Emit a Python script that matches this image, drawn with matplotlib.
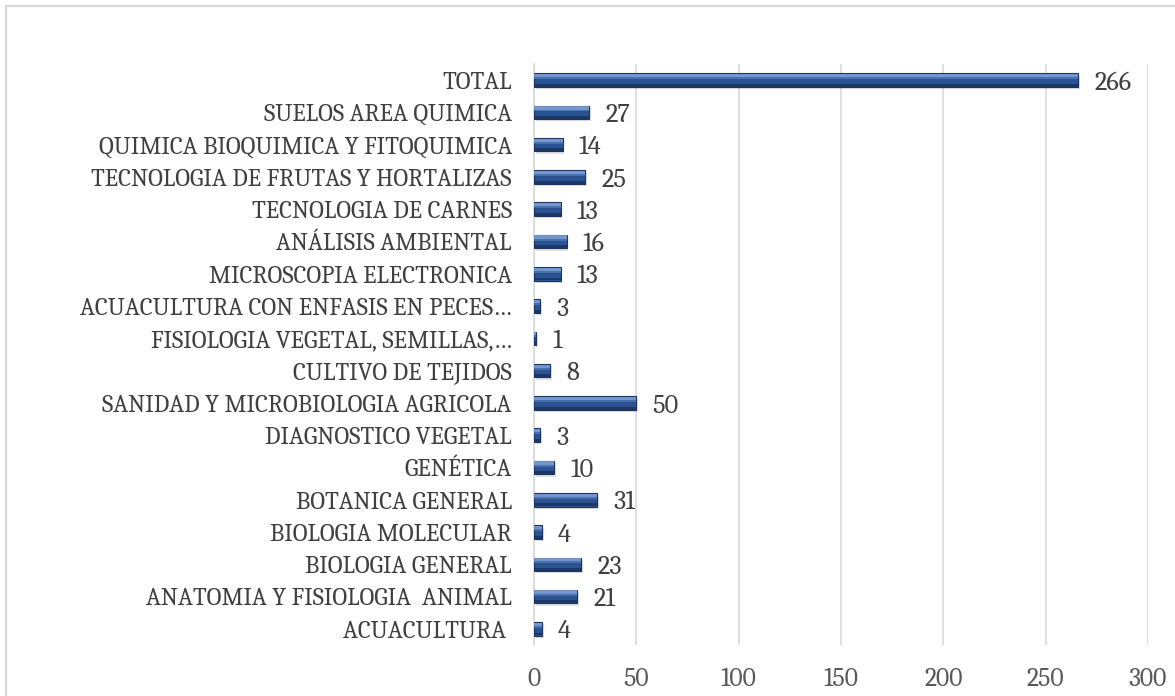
import matplotlib
matplotlib.use("Agg")
import matplotlib.pyplot as plt
from matplotlib.patches import Rectangle

categories = [
    "TOTAL",
    "SUELOS AREA QUIMICA",
    "QUIMICA BIOQUIMICA Y FITOQUIMICA",
    "TECNOLOGIA DE FRUTAS Y HORTALIZAS",
    "TECNOLOGIA DE CARNES",
    "ANÁLISIS AMBIENTAL",
    "MICROSCOPIA ELECTRONICA",
    "ACUACULTURA CON ENFASIS EN PECES…",
    "FISIOLOGIA VEGETAL, SEMILLAS,…",
    "CULTIVO DE TEJIDOS",
    "SANIDAD Y MICROBIOLOGIA AGRICOLA",
    "DIAGNOSTICO VEGETAL",
    "GENÉTICA",
    "BOTANICA GENERAL",
    "BIOLOGIA MOLECULAR",
    "BIOLOGIA GENERAL",
    "ANATOMIA Y FISIOLOGIA  ANIMAL",
    "ACUACULTURA ",
]
values = [266, 27, 14, 25, 13, 16, 13, 3, 1, 8, 50, 3, 10, 31, 4, 23, 21, 4]
x_ticks = [0, 50, 100, 150, 200, 250, 300]

plt.rcParams['font.family'] = ['Caladea', 'Liberation Serif', 'DejaVu Serif']

fig = plt.figure(figsize=(11.75, 6.96), dpi=100)
fig.patches.append(Rectangle((6/1175, -0.1), 1.2, 1 - 6/696 + 0.1,
                             transform=fig.transFigure, fill=False,
                             edgecolor='#d9d9d9', linewidth=1.6))

ax = fig.add_axes([534/1175, 1 - 645/696, (1148 - 534)/1175, (645 - 64)/696])

y = list(range(len(categories)))
h = 0.42
# shadow
ax.barh([yy + 0.07 for yy in y], values, height=h, left=0.8, color='#000000', alpha=0.12, zorder=2)
# base bar
ax.barh(y, values, height=h, color='#2C5391', edgecolor='#1B3560', linewidth=0.8, zorder=3)
# top highlight
ax.barh([yy - h/2 + 0.07 for yy in y], values, height=0.10, color='#7FA3D8', alpha=0.85, zorder=4, linewidth=0)
ax.barh([yy - h/2 + 0.15 for yy in y], values, height=0.06, color='#4F78B8', alpha=0.8, zorder=4, linewidth=0)
# bottom dark
ax.barh([yy + h/2 - 0.05 for yy in y], values, height=0.09, color='#1A3463', alpha=0.9, zorder=4, linewidth=0)

for yy, v in zip(y, values):
    ax.annotate(str(v), xy=(v, yy), xytext=(11.5, 0), textcoords='offset points',
                ha='left', va='center_baseline', fontsize=19, color='#404040')

ax.set_ylim(len(categories) - 0.5, -0.5)
ax.set_xlim(0, 300)
ax.set_yticks(y)
ax.set_yticklabels(categories, fontsize=17.8, color='#404040', va='center_baseline')
ax.set_xticks(x_ticks)
ax.set_xticklabels([str(t) for t in x_ticks], fontsize=18.5, color='#595959')
ax.tick_params(axis='y', length=0, pad=16)
ax.tick_params(axis='x', length=0, pad=16)
ax.xaxis.grid(True, color='#d9d9d9', linewidth=1.2, zorder=0)
ax.set_axisbelow(True)
for s in ['top', 'right', 'bottom']:
    ax.spines[s].set_visible(False)
ax.spines['left'].set_color('#d9d9d9')
ax.spines['left'].set_linewidth(1.2)

fig.savefig('out.png', dpi=100)
